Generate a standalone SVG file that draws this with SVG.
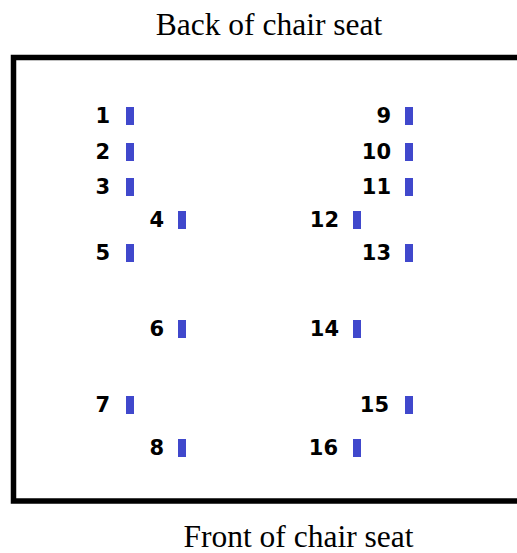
<svg xmlns="http://www.w3.org/2000/svg" width="517" height="553" viewBox="0 0 517 553">
<style>
.cap{font-family:"Liberation Serif","Times New Roman",serif;font-size:31.5px;fill:#000;text-anchor:middle}
.lbl{font-family:"DejaVu Sans",Verdana,sans-serif;font-weight:bold;font-size:21px;fill:#000;text-anchor:end}
.bar{fill:#4048cc}
</style>
<rect width="517" height="553" fill="#fff"/>
<text class="cap" x="269" y="35">Back of chair seat</text>
<rect id="frame" x="13.5" y="57.5" width="520" height="443.5" fill="none" stroke="#000" stroke-width="5.5"/>
<text class="cap" x="298.5" y="547">Front of chair seat</text>
<g id="s1"><text class="lbl" x="110" y="123">1</text><rect class="bar" x="126" y="107" width="8" height="18"/></g>
<g id="s2"><text class="lbl" x="110" y="159">2</text><rect class="bar" x="126" y="143" width="8" height="18"/></g>
<g id="s3"><text class="lbl" x="110" y="194">3</text><rect class="bar" x="126" y="178" width="8" height="18"/></g>
<g id="s4"><text class="lbl" x="164" y="227">4</text><rect class="bar" x="178" y="211" width="8" height="18"/></g>
<g id="s5"><text class="lbl" x="110" y="260">5</text><rect class="bar" x="126" y="244" width="8" height="18"/></g>
<g id="s6"><text class="lbl" x="164" y="336">6</text><rect class="bar" x="178" y="320" width="8" height="18"/></g>
<g id="s7"><text class="lbl" x="110" y="412">7</text><rect class="bar" x="126" y="396" width="8" height="18"/></g>
<g id="s8"><text class="lbl" x="164" y="455">8</text><rect class="bar" x="178" y="439" width="8" height="18"/></g>
<g id="s9"><text class="lbl" x="391" y="123">9</text><rect class="bar" x="405" y="107" width="8" height="18"/></g>
<g id="s10"><text class="lbl" x="391" y="159">10</text><rect class="bar" x="405" y="143" width="8" height="18"/></g>
<g id="s11"><text class="lbl" x="391" y="194">11</text><rect class="bar" x="405" y="178" width="8" height="18"/></g>
<g id="s12"><text class="lbl" x="339" y="227">12</text><rect class="bar" x="353" y="211" width="8" height="18"/></g>
<g id="s13"><text class="lbl" x="391" y="260">13</text><rect class="bar" x="405" y="244" width="8" height="18"/></g>
<g id="s14"><text class="lbl" x="339" y="336">14</text><rect class="bar" x="353" y="320" width="8" height="18"/></g>
<g id="s15"><text class="lbl" x="389" y="412">15</text><rect class="bar" x="405" y="396" width="8" height="18"/></g>
<g id="s16"><text class="lbl" x="338" y="455">16</text><rect class="bar" x="353" y="439" width="8" height="18"/></g>
<g id="connectors"/>
</svg>
